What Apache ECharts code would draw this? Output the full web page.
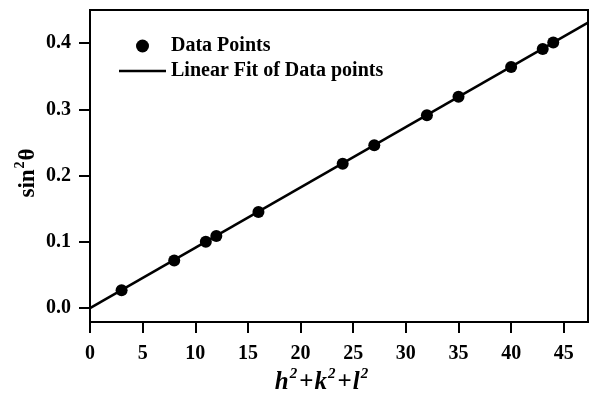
<!DOCTYPE html>
<html>
<head>
<meta charset="utf-8">
<script src="https://cdn.jsdelivr.net/npm/echarts@6/dist/echarts.min.js"></script>
<style>
  html, body { margin: 0; padding: 0; background: #ffffff; }
  #chart { width: 592px; height: 395px; }
</style>
</head>
<body>
<div id="chart"></div>
<script>
// Measured reflections: h^2+k^2+l^2 against sin^2(theta)
const hklSum = [3, 8, 11, 12, 16, 24, 27, 32, 35, 40, 43, 44];
const sinSq = [0.027, 0.072, 0.100, 0.109, 0.145, 0.218, 0.246, 0.291, 0.319, 0.364, 0.391, 0.401];

// Straight-line fit, given by its two end points
const fitX = [0, 47.3];
const fitY = [0.000, 0.431];

const xTicks = [0, 5, 10, 15, 20, 25, 30, 35, 40, 45];
const yTicks = [0.0, 0.1, 0.2, 0.3, 0.4];

const FONT = '"Liberation Serif", "Times New Roman", serif';

const chart = echarts.init(document.getElementById('chart'), null, { renderer: 'canvas' });

const axisCommon = {
  axisLine: { show: true, onZero: false, lineStyle: { color: '#000', width: 2 } },
  axisTick: { show: true, inside: false, length: 11, lineStyle: { color: '#000', width: 2 } },
  splitLine: { show: false },
  axisLabel: { color: '#000', fontFamily: FONT, fontWeight: 'bold', fontSize: 20 }
};

// superscript token: small, pinned to the top of the line box
const sup = (size, top) => ({
  fontFamily: FONT, fontWeight: 'bold', fontSize: size, lineHeight: size,
  color: '#000', verticalAlign: 'top', padding: [top, 1, 0, 1]
});

chart.setOption({
  backgroundColor: '#ffffff',
  animation: false,
  grid: {
    left: 90, top: 10, right: 4, bottom: 73,
    outerBoundsMode: 'none', containLabel: false,
    show: true, borderColor: '#000', borderWidth: 2, backgroundColor: 'transparent'
  },
  legend: {
    left: 114, top: 31,
    orient: 'vertical',
    itemWidth: 47, itemHeight: 13, itemGap: 5,
    textStyle: { color: '#000', fontFamily: FONT, fontWeight: 'bold', fontSize: 20 },
    data: [
      { name: 'Data Points', icon: 'circle', itemStyle: { color: '#000', opacity: 1 } },
      { name: 'Linear Fit of Data points', icon: 'path://M0,0L100,0L100,5.5L0,5.5Z', itemStyle: { color: '#000' } }
    ]
  },
  xAxis: {
    type: 'value', min: 0, max: 47.3,
    ...axisCommon,
    axisTick: { ...axisCommon.axisTick, customValues: xTicks },
    axisLabel: { ...axisCommon.axisLabel, margin: 22, customValues: xTicks },
    name: '{i|h}{s|2}{p|+}{i|k}{s|2}{p|+}{i|l}{s|2}',
    nameLocation: 'middle', nameGap: 43, nameMoveOverlap: false,
    nameTextStyle: {
      padding: [0, 34, 0, 0],
      rich: {
        i: { fontFamily: FONT, fontStyle: 'italic', fontWeight: 'bold', fontSize: 25, lineHeight: 30, verticalAlign: 'bottom', color: '#000' },
        p: { fontFamily: FONT, fontWeight: 'bold', fontSize: 25, lineHeight: 30, verticalAlign: 'bottom', color: '#000', padding: [0, 1, 0, 1] },
        s: { ...sup(15, 2), fontStyle: 'italic' }
      }
    }
  },
  yAxis: {
    type: 'value', min: -0.021, max: 0.45,
    ...axisCommon,
    axisTick: { ...axisCommon.axisTick, customValues: yTicks },
    axisLabel: { ...axisCommon.axisLabel, margin: 19, customValues: yTicks, formatter: v => v.toFixed(1) },
    name: '{a|sin}{s|2}{a|θ}',
    nameLocation: 'middle', nameGap: 50, nameRotate: 90, nameMoveOverlap: false,
    nameTextStyle: {
      padding: [0, 14, 0, 0],
      rich: {
        a: { fontFamily: FONT, fontWeight: 'bold', fontSize: 23, lineHeight: 28, verticalAlign: 'bottom', color: '#000' },
        s: sup(14, 1)
      }
    }
  },
  series: [
    {
      name: 'Linear Fit of Data points',
      type: 'line',
      data: fitX.map((x, i) => [x, fitY[i]]),
      symbol: 'none',
      itemStyle: { color: '#000' },
      lineStyle: { color: '#000', width: 2.5 },
      z: 2
    },
    {
      name: 'Data Points',
      type: 'scatter',
      data: hklSum.map((x, i) => [x, sinSq[i]]),
      symbol: 'circle', symbolSize: 12,
      itemStyle: { color: '#000', opacity: 1 },
      z: 3
    }
  ]
});
</script>
</body>
</html>
